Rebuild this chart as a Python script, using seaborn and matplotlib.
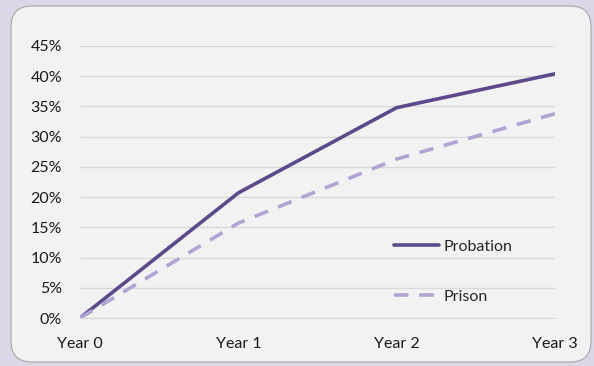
import pandas as pd
import matplotlib.pyplot as plt
import seaborn as sns
from matplotlib.patches import FancyBboxPatch
from matplotlib.ticker import PercentFormatter

years = ['Year 0', 'Year 1', 'Year 2', 'Year 3']
probation = [0.0, 0.207, 0.348, 0.404]
prison = [0.0, 0.157, 0.263, 0.338]

df = pd.DataFrame({
    'year': list(range(len(years))) * 2,
    'rate': probation + prison,
    'group': ['Probation'] * len(years) + ['Prison'] * len(years),
})

sns.set_style('white')
plt.rcParams['font.family'] = ['Lato', 'DejaVu Sans']

fig = plt.figure(figsize=(5.94, 3.66), dpi=100)
fig.patch.set_facecolor('#ddd6e8')
box = FancyBboxPatch((11 / 594, 4 / 366), 580 / 594, 356 / 366,
                     boxstyle='round,pad=0,rounding_size=0.035',
                     transform=fig.transFigure, facecolor='#f2f2f2',
                     edgecolor='#a6a6a6', linewidth=0.8, zorder=-1,
                     mutation_aspect=594 / 366)
fig.patches.append(box)

ax = fig.add_axes([80 / 594, 1 - 318 / 366, 475 / 594, 272 / 366])
ax.set_zorder(2)
ax.set_facecolor('none')

sns.lineplot(data=df, x='year', y='rate', hue='group', style='group',
             palette={'Probation': '#5e4a8a', 'Prison': '#b3a3d3'},
             dashes={'Probation': '', 'Prison': (4, 3)},
             linewidth=2.6, ax=ax, legend=True)

ax.set_xlim(0, 3)
ax.set_ylim(0, 0.45)
ax.set_yticks([i * 0.05 for i in range(10)])
ax.yaxis.set_major_formatter(PercentFormatter(1.0, decimals=0))
ax.set_xticks(range(len(years)))
ax.set_xticklabels(years)
ax.set_xlabel('')
ax.set_ylabel('')
ax.grid(axis='y', color='#d9d9d9', linewidth=1)
ax.set_axisbelow(True)
for s in ['top', 'right', 'left']:
    ax.spines[s].set_visible(False)
ax.spines['bottom'].set_color('#d9d9d9')
ax.tick_params(axis='y', length=0, pad=13, labelsize=11.5, colors='#1a1a1a')
ax.tick_params(axis='x', direction='in', length=4, color='#d9d9d9',
               pad=14, labelsize=11.5, labelcolor='#1a1a1a')

leg = ax.legend(loc='lower left', bbox_to_anchor=(0.662, 0.052), frameon=False,
                fontsize=11.5, handlelength=2.8, handletextpad=0.3,
                labelspacing=2.25, borderpad=0, borderaxespad=0)
for line in leg.get_lines():
    line.set_linewidth(2.6)

fig.savefig('out.png', dpi=100, facecolor=fig.get_facecolor())
